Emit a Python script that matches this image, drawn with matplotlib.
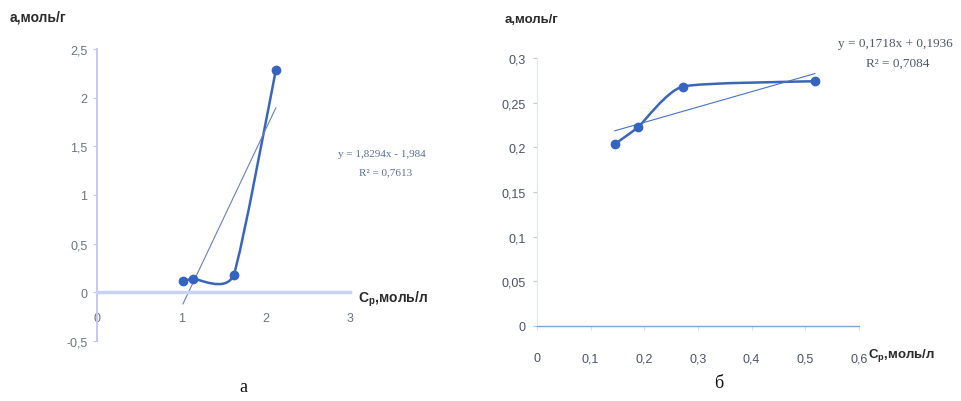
import numpy as np
import matplotlib
matplotlib.use("Agg")
import matplotlib.pyplot as plt
from matplotlib.path import Path
from matplotlib.patches import PathPatch

plt.rcParams['font.family'] = ['Liberation Sans Narrow', 'Liberation Sans', 'DejaVu Sans']
plt.rcParams['mathtext.fontset'] = 'custom'
plt.rcParams['mathtext.rm'] = 'Liberation Sans:bold'
plt.rcParams['mathtext.bf'] = 'Liberation Sans:bold'
plt.rcParams['mathtext.it'] = 'Liberation Sans:bold'

# chart a
cp_a = [1.02, 1.14, 1.62, 2.12]
a_a = [0.115, 0.14, 0.18, 2.28]
slope_a, icpt_a = 1.8294, -1.984
eq_a = "y = 1,8294x - 1,984"
r2_a = "R² = 0,7613"
xticks_a = [0, 1, 2, 3]
xlabels_a = ["0", "1", "2", "3"]
yticks_a = [-0.5, 0, 0.5, 1, 1.5, 2, 2.5]
ylabels_a = ["-0,5", "0", "0,5", "1", "1,5", "2", "2,5"]

# chart b
cp_b = [0.145, 0.189, 0.2715, 0.518]
a_b = [0.2036, 0.223, 0.268, 0.274]
slope_b, icpt_b = 0.1718, 0.1936
eq_b = "y = 0,1718x + 0,1936"
r2_b = "R² = 0,7084"
xticks_b = [0, 0.1, 0.2, 0.3, 0.4, 0.5, 0.6]
xlabels_b = ["0", "0,1", "0,2", "0,3", "0,4", "0,5", "0,6"]
yticks_b = [0, 0.05, 0.1, 0.15, 0.2, 0.25, 0.3]
ylabels_b = ["0", "0,05", "0,1", "0,15", "0,2", "0,25", "0,3"]

W, H = 961, 402
LINE = "#3a66b8"
MARK = "#3464c0"


def smooth_path(xs, ys, k=0.09):
	# excel-like smoothed line as cubic bezier segments
	p = np.column_stack([xs, ys])
	n = len(p)
	verts = [p[0]]
	codes = [Path.MOVETO]
	for i in range(n - 1):
		prev = p[i - 1] if i > 0 else p[i]
		nxt = p[i + 2] if i + 2 < n else p[i + 1]
		c1 = p[i] + k * (p[i + 1] - prev)
		c2 = p[i + 1] - k * (nxt - p[i])
		verts += [c1, c2, p[i + 1]]
		codes += [Path.CURVE4] * 3
	return Path(verts, codes)


def px(x, y):
	return x / W, 1 - y / H


fig = plt.figure(figsize=(9.61, 4.02), dpi=100)

# ---- left chart
ax = fig.add_axes([97 / W, 1 - 342 / H, 253 / W, 292 / H])
ax.set_xlim(0, 3)
ax.set_ylim(-0.5, 2.5)
for s in ["top", "right"]:
	ax.spines[s].set_visible(False)
ax.spines["left"].set_color("#c4c4ee")
ax.spines["left"].set_linewidth(1.3)
ax.spines["bottom"].set_position(("data", 0))
ax.spines["bottom"].set_color("#c8d3f2")
ax.spines["bottom"].set_linewidth(2.5)
ax.set_xticks(xticks_a, xlabels_a)
ax.set_yticks(yticks_a, ylabels_a)
ax.tick_params(axis="x", length=0, pad=14, labelsize=9, labelcolor="#6f7480")
ax.tick_params(axis="y", length=3, color="#c8c8c8", pad=4, labelsize=9, labelcolor="#6f7480")
tx = np.array([min(cp_a), max(cp_a)])
ax.plot(tx, slope_a * tx + icpt_a, color="#6b7fb5", lw=0.8)
ax.add_patch(PathPatch(smooth_path(cp_a, a_a), fill=False, edgecolor=LINE, lw=1.8))
ax.plot(cp_a, a_a, "o", ms=6, color=MARK, zorder=5)

# ---- right chart
bx = fig.add_axes([537 / W, 1 - 327 / H, 322 / W, 268 / H])
bx.set_xlim(0, 0.6)
bx.set_ylim(0, 0.3)
for s in ["top", "right"]:
	bx.spines[s].set_visible(False)
bx.spines["left"].set_color("#e2e6f0")
bx.spines["left"].set_linewidth(0.8)
bx.spines["bottom"].set_color("#7fa3dc")
bx.spines["bottom"].set_linewidth(1.0)
bx.set_xticks(xticks_b, xlabels_b)
bx.set_yticks(yticks_b, ylabels_b)
bx.tick_params(axis="x", length=3, color="#d8dce6", pad=16, labelsize=9, labelcolor="#4a5266")
bx.tick_params(axis="y", length=3, color="#c8c8c8", pad=5, labelsize=9, labelcolor="#4a5266")
tx = np.array([min(cp_b), max(cp_b)])
bx.plot(tx, slope_b * tx + icpt_b, color="#4a72c4", lw=0.8)
bx.add_patch(PathPatch(smooth_path(cp_b, a_b), fill=False, edgecolor=LINE, lw=1.8))
bx.plot(cp_b, a_b, "o", ms=6, color=MARK, zorder=5)

# ---- texts
lab = dict(fontsize=10, fontweight="bold", color="#2a2a2a", family=["Liberation Sans", "DejaVu Sans"])
fig.text(*px(10, 18), "а,моль/г", va="center", ha="left", **lab)
fig.text(*px(505, 20), "а,моль/г", va="center", ha="left", **dict(lab, fontsize=9.5))
fig.text(*px(358, 299), r"$\mathbf{C_{р}}$,моль/л", va="center", ha="left", **lab)
fig.text(*px(868, 356), r"$\mathbf{C_{р}}$,моль/л", va="center", ha="left", **dict(lab, fontsize=9.5))

eqf = dict(family=["Liberation Serif", "DejaVu Serif"], fontsize=8, ha="center", va="center")
fig.text(*px(382, 155), eq_a, color="#5a6e9c", **eqf)
fig.text(*px(386, 173), r2_a, color="#5a6e9c", **eqf)
fig.text(*px(895, 44), eq_b, color="#4f5868", **dict(eqf, fontsize=9.5))
fig.text(*px(898, 64), r2_b, color="#4f5868", **dict(eqf, fontsize=9.5))

cap = dict(family=["Liberation Serif", "DejaVu Serif"], fontsize=13, ha="center", va="center", color="#111111")
fig.text(*px(243, 388), "а", **cap)
fig.text(*px(719, 384), "б", **cap)

fig.savefig("out.png", dpi=100)
